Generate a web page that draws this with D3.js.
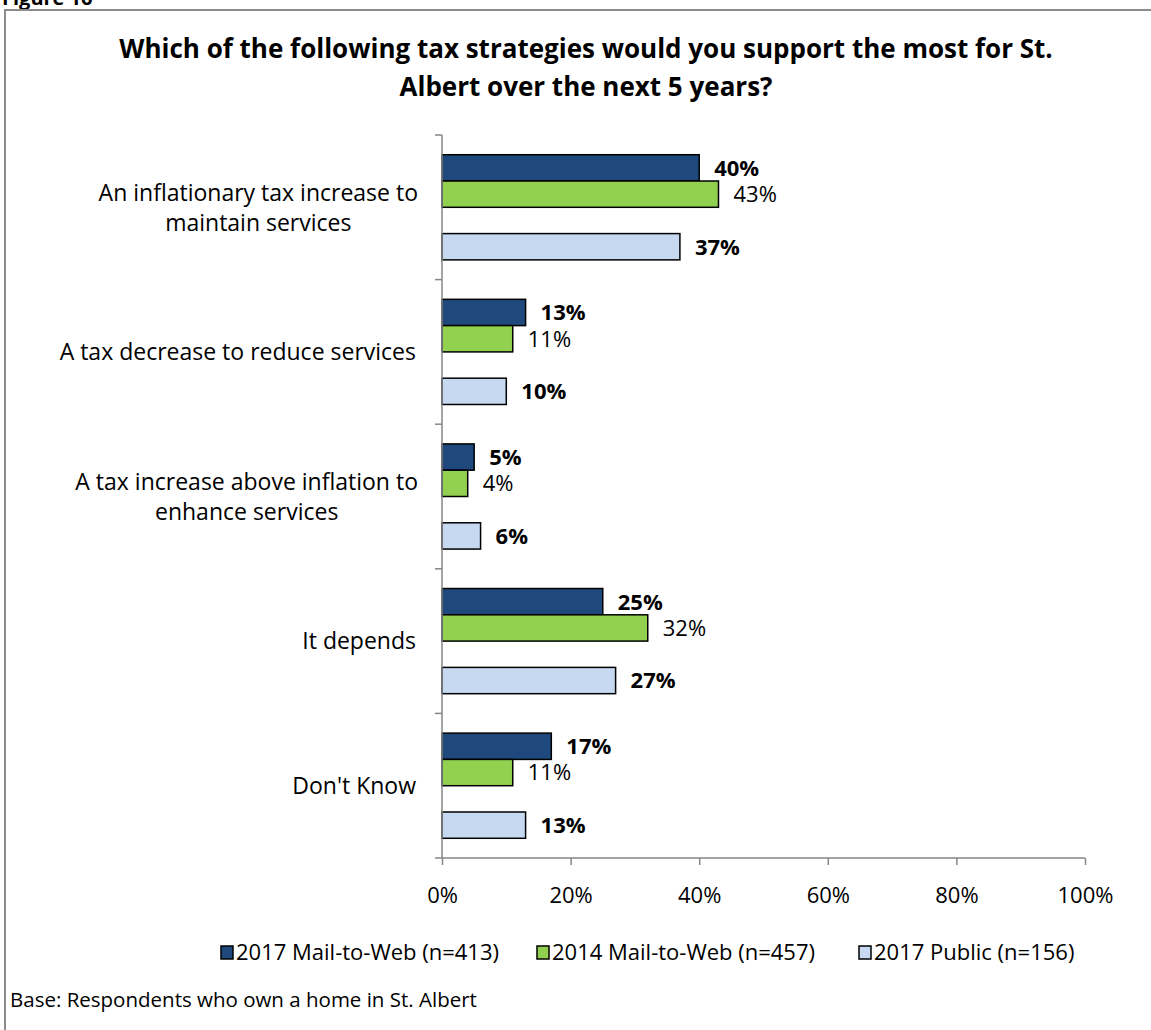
<!DOCTYPE html>
<html>
<head>
<meta charset="utf-8">
<script src="https://cdn.jsdelivr.net/npm/d3@7"></script>
<style>
  html, body { margin: 0; padding: 0; background: #fff; }
  svg { display: block; font-family: "Open Sans", "Liberation Sans", sans-serif; }
</style>
</head>
<body>
<svg id="chart" width="1151" height="1030"></svg>
<script>
// Survey question: preferred tax strategy over the next five years
const categories = [
  ["An inflationary tax increase to", "maintain services"],
  ["A tax decrease to reduce services"],
  ["A tax increase above inflation to", "enhance services"],
  ["It depends"],
  ["Don't Know"]
];
const seriesNames = ["2017 Mail-to-Web (n=413)", "2014 Mail-to-Web (n=457)", "2017 Public (n=156)"];
const mail2017 = [40, 13, 5, 25, 17];
const mail2014 = [43, 11, 4, 32, 11];
const public2017 = [37, 10, 6, 27, 13];
const xTicks = [0, 20, 40, 60, 80, 100];

const colors = ["#1F497D", "#92D050", "#C6D9F1"];
const labelWeights = ["bold", "normal", "bold"];
const seriesValues = [mail2017, mail2014, public2017];
// slot order inside each category band; the third slot stays empty
const slots = ["s0", "s1", "gap", "s2"];

const bodySize = 22;
const catSize = 23;
const svg = d3.select("#chart");

// Figure caption (partly above the page edge) and frame
svg.append("text").attr("x", 2).attr("y", 5)
  .attr("font-weight", "bold").attr("font-size", 20).text("Figure 16");
svg.append("rect").attr("x", 5).attr("y", 10).attr("width", 1160).attr("height", 1040)
  .attr("fill", "none").attr("stroke", "#8c8c8c").attr("stroke-width", 2);

// Title
const title = svg.append("text").attr("text-anchor", "middle")
  .attr("font-weight", "bold").attr("font-size", 26);
title.append("tspan").attr("x", 586).attr("y", 58)
  .text("Which of the following tax strategies would you support the most for St.");
title.append("tspan").attr("x", 586).attr("y", 96)
  .text("Albert over the next 5 years?");

const plot = { left: 442, right: 1085, top: 135, bottom: 858 };

const x = d3.scaleLinear().domain([0, 100]).range([plot.left, plot.right]);
const y = d3.scaleBand().domain(d3.range(categories.length))
  .range([plot.top, plot.bottom]).paddingInner(0).paddingOuter(0);
const ySub = d3.scaleBand().domain(slots).range([0, y.bandwidth()])
  .paddingInner(0).paddingOuter(0.75);

// Bars and value labels
categories.forEach((cat, i) => {
  const g = svg.append("g").attr("transform", `translate(0,${y(i)})`);
  seriesValues.forEach((vals, s) => {
    const v = vals[i];
    const slot = slots[s === 2 ? 3 : s];
    g.append("rect")
      .attr("x", x(0)).attr("y", ySub(slot))
      .attr("width", x(v) - x(0)).attr("height", ySub.bandwidth())
      .attr("fill", colors[s]).attr("stroke", "#000").attr("stroke-width", 1.5);
    g.append("text")
      .attr("x", x(v) + 15).attr("y", ySub(slot) + ySub.bandwidth() / 2)
      .attr("dy", "0.36em")
      .attr("font-size", bodySize).attr("font-weight", labelWeights[s])
      .text(v + "%");
  });
});

// Category axis
const axisColor = "#868686";
svg.append("line").attr("x1", x(0)).attr("x2", x(0))
  .attr("y1", plot.top).attr("y2", plot.bottom)
  .attr("stroke", axisColor).attr("stroke-width", 1.5);
d3.range(categories.length + 1).forEach(k => {
  const yy = plot.top + k * y.step();
  svg.append("line").attr("x1", x(0) - 7).attr("x2", x(0))
    .attr("y1", yy).attr("y2", yy)
    .attr("stroke", axisColor).attr("stroke-width", 1.5);
});
categories.forEach((lines, i) => {
  const cy = y(i) + y.bandwidth() / 2;
  const t = svg.append("text").attr("font-size", catSize).attr("fill", "#000");
  const lh = 30;
  if (lines.length === 1) {
    t.attr("text-anchor", "end");
    t.append("tspan").attr("x", 416).attr("y", cy).attr("dy", "0.36em").text(lines[0]);
  } else {
    t.attr("text-anchor", "middle");
    lines.forEach((ln, j) => {
      t.append("tspan").attr("x", 0).attr("y", cy + (j - (lines.length - 1) / 2) * lh)
        .attr("dy", "0.36em").text(ln);
    });
    // center the block under its widest line, right edge at 418
    const w = t.node().getBBox().width;
    t.selectAll("tspan").attr("x", 418 - w / 2);
  }
});

// Value axis
const xAxis = d3.axisBottom(x).tickValues(xTicks).tickFormat(d => d + "%")
  .tickSize(7).tickPadding(22);
const xg = svg.append("g").attr("transform", `translate(0,${plot.bottom})`).call(xAxis);
xg.select(".domain").attr("stroke", axisColor).attr("stroke-width", 1.5)
  .attr("d", `M${x(0)},0H${x(100)}`);
xg.selectAll(".tick line").attr("stroke", axisColor).attr("stroke-width", 1.5);
xg.selectAll(".tick text").attr("font-size", bodySize).attr("fill", "#000")
  .attr("font-family", "'Open Sans', 'Liberation Sans', sans-serif");

// Legend
const legendX = [221, 537, 859];
const legend = svg.append("g");
seriesNames.forEach((name, s) => {
  legend.append("rect").attr("x", legendX[s]).attr("y", 946)
    .attr("width", 12).attr("height", 13)
    .attr("fill", colors[s]).attr("stroke", "#000").attr("stroke-width", 1.5);
  legend.append("text").attr("x", legendX[s] + 15).attr("y", 952).attr("dy", "0.36em")
    .attr("font-size", bodySize).text(name);
});

// Footnote
svg.append("text").attr("x", 10).attr("y", 1000).attr("dy", "0.36em")
  .attr("font-size", 20.5).text("Base: Respondents who own a home in St. Albert");
</script>
</body>
</html>
